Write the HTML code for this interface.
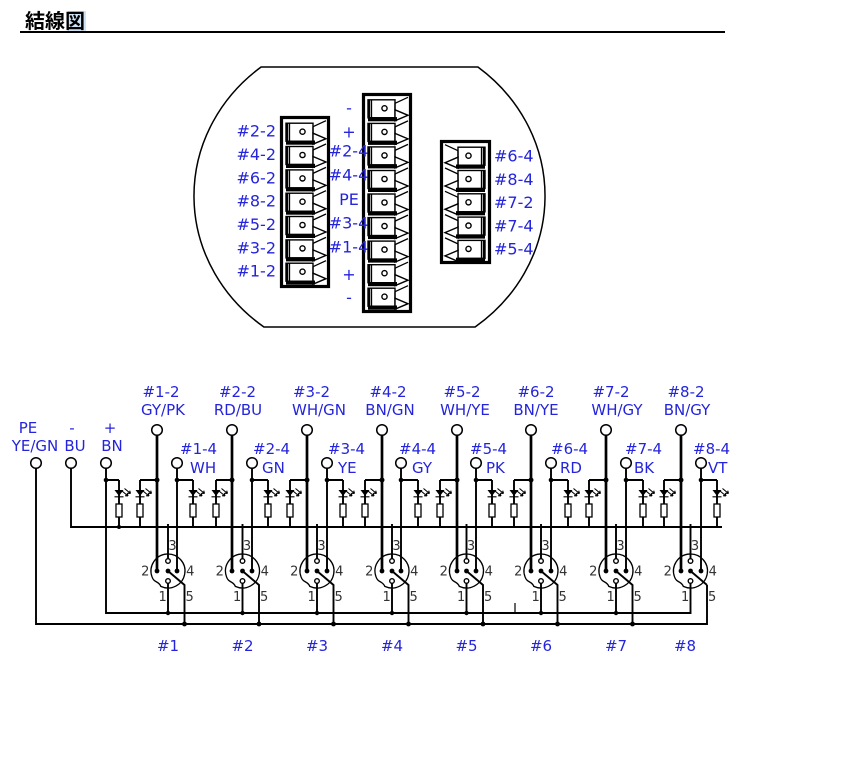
<!DOCTYPE html>
<html><head><meta charset="utf-8">
<style>
html,body{margin:0;padding:0;background:#fff;}
body{width:866px;height:758px;overflow:hidden;position:relative;}
svg{position:absolute;left:0;top:0;}
.w{stroke:#000;stroke-width:1.9;fill:none}
.t{stroke:#000;stroke-width:2.7;fill:none}
.c{fill:#fff;stroke:#000;stroke-width:1.5}
.d{fill:#000}
.cb{fill:#fff;stroke:#000;stroke-width:1.4}
.cl{fill:none;stroke:#000;stroke-width:1.3}
.blk{fill:#fff;stroke:#000;stroke-width:3.2}
.w1{fill:none;stroke:#000;stroke-width:1.1}
.r{fill:#fff;stroke:#000;stroke-width:1.3}
.co{fill:none;stroke:#000;stroke-width:1.3}
.ph{fill:#fff;stroke:#000;stroke-width:1.4}
.bl{fill:#2424dc;font-family:"DejaVu Sans","Liberation Sans",sans-serif;font-size:15px}
.bt{fill:#2424dc;font-family:"DejaVu Sans","Liberation Sans",sans-serif;font-size:16px}
.n{fill:#333;font-family:"DejaVu Sans","Liberation Sans",sans-serif;font-size:13px;text-anchor:middle}
.m{text-anchor:middle}
.e{text-anchor:end}
</style></head><body>
<svg width="866" height="758" viewBox="0 0 866 758" xmlns="http://www.w3.org/2000/svg">
<!-- title -->
<rect x="68" y="11" width="18" height="20" fill="#cfe3f7"/>
<text x="25" y="28" font-family="'Noto Sans CJK JP','WenQuanYi Zen Hei',sans-serif" font-weight="bold" font-size="20">結線図</text>
<rect x="20" y="31" width="705" height="2" fill="#000"/>

<!-- housing outline -->
<path d="M261.1,67H477.9A175.5,164 0 0 1 475.1,327H263.9A175.5,164 0 0 1 261.1,67Z" fill="none" stroke="#000" stroke-width="1.5"/>

<!-- left block -->
<rect class="blk" x="281.5" y="117.5" width="47" height="169"/>
<g transform="translate(280,131.7)"><rect class="cb" x="6" y="-8.5" width="27" height="18"/><path class="cl" d="M9.5,-8.5V9.5M33,-5L46,-11M33,-5V2"/><rect class="d" x="6" y="-8.5" width="2.2" height="18"/><polygon class="cb" points="33,1.5 46,7 33,12.5"/><rect class="d" x="6" y="8.8" width="29" height="4.2"/><circle class="cb" cx="22.5" cy="0" r="2.6"/></g>
<g transform="translate(280,155)"><rect class="cb" x="6" y="-8.5" width="27" height="18"/><path class="cl" d="M9.5,-8.5V9.5M33,-5L46,-11M33,-5V2"/><rect class="d" x="6" y="-8.5" width="2.2" height="18"/><polygon class="cb" points="33,1.5 46,7 33,12.5"/><rect class="d" x="6" y="8.8" width="29" height="4.2"/><circle class="cb" cx="22.5" cy="0" r="2.6"/></g>
<g transform="translate(280,178.4)"><rect class="cb" x="6" y="-8.5" width="27" height="18"/><path class="cl" d="M9.5,-8.5V9.5M33,-5L46,-11M33,-5V2"/><rect class="d" x="6" y="-8.5" width="2.2" height="18"/><polygon class="cb" points="33,1.5 46,7 33,12.5"/><rect class="d" x="6" y="8.8" width="29" height="4.2"/><circle class="cb" cx="22.5" cy="0" r="2.6"/></g>
<g transform="translate(280,201.7)"><rect class="cb" x="6" y="-8.5" width="27" height="18"/><path class="cl" d="M9.5,-8.5V9.5M33,-5L46,-11M33,-5V2"/><rect class="d" x="6" y="-8.5" width="2.2" height="18"/><polygon class="cb" points="33,1.5 46,7 33,12.5"/><rect class="d" x="6" y="8.8" width="29" height="4.2"/><circle class="cb" cx="22.5" cy="0" r="2.6"/></g>
<g transform="translate(280,225)"><rect class="cb" x="6" y="-8.5" width="27" height="18"/><path class="cl" d="M9.5,-8.5V9.5M33,-5L46,-11M33,-5V2"/><rect class="d" x="6" y="-8.5" width="2.2" height="18"/><polygon class="cb" points="33,1.5 46,7 33,12.5"/><rect class="d" x="6" y="8.8" width="29" height="4.2"/><circle class="cb" cx="22.5" cy="0" r="2.6"/></g>
<g transform="translate(280,248.4)"><rect class="cb" x="6" y="-8.5" width="27" height="18"/><path class="cl" d="M9.5,-8.5V9.5M33,-5L46,-11M33,-5V2"/><rect class="d" x="6" y="-8.5" width="2.2" height="18"/><polygon class="cb" points="33,1.5 46,7 33,12.5"/><rect class="d" x="6" y="8.8" width="29" height="4.2"/><circle class="cb" cx="22.5" cy="0" r="2.6"/></g>
<g transform="translate(280,271.7)"><rect class="cb" x="6" y="-8.5" width="27" height="18"/><path class="cl" d="M9.5,-8.5V9.5M33,-5L46,-11M33,-5V2"/><rect class="d" x="6" y="-8.5" width="2.2" height="18"/><polygon class="cb" points="33,1.5 46,7 33,12.5"/><rect class="d" x="6" y="8.8" width="29" height="4.2"/><circle class="cb" cx="22.5" cy="0" r="2.6"/></g>

<!-- middle block -->
<rect class="blk" x="363.5" y="94.5" width="47" height="217"/>
<g transform="translate(362,108.3)"><rect class="cb" x="6" y="-8.5" width="27" height="18"/><path class="cl" d="M9.5,-8.5V9.5M33,-5L46,-11M33,-5V2"/><rect class="d" x="6" y="-8.5" width="2.2" height="18"/><polygon class="cb" points="33,1.5 46,7 33,12.5"/><rect class="d" x="6" y="8.8" width="29" height="4.2"/><circle class="cb" cx="22.5" cy="0" r="2.6"/></g>
<g transform="translate(362,131.9)"><rect class="cb" x="6" y="-8.5" width="27" height="18"/><path class="cl" d="M9.5,-8.5V9.5M33,-5L46,-11M33,-5V2"/><rect class="d" x="6" y="-8.5" width="2.2" height="18"/><polygon class="cb" points="33,1.5 46,7 33,12.5"/><rect class="d" x="6" y="8.8" width="29" height="4.2"/><circle class="cb" cx="22.5" cy="0" r="2.6"/></g>
<g transform="translate(362,155.4)"><rect class="cb" x="6" y="-8.5" width="27" height="18"/><path class="cl" d="M9.5,-8.5V9.5M33,-5L46,-11M33,-5V2"/><rect class="d" x="6" y="-8.5" width="2.2" height="18"/><polygon class="cb" points="33,1.5 46,7 33,12.5"/><rect class="d" x="6" y="8.8" width="29" height="4.2"/><circle class="cb" cx="22.5" cy="0" r="2.6"/></g>
<g transform="translate(362,179)"><rect class="cb" x="6" y="-8.5" width="27" height="18"/><path class="cl" d="M9.5,-8.5V9.5M33,-5L46,-11M33,-5V2"/><rect class="d" x="6" y="-8.5" width="2.2" height="18"/><polygon class="cb" points="33,1.5 46,7 33,12.5"/><rect class="d" x="6" y="8.8" width="29" height="4.2"/><circle class="cb" cx="22.5" cy="0" r="2.6"/></g>
<g transform="translate(362,202.5)"><rect class="cb" x="6" y="-8.5" width="27" height="18"/><path class="cl" d="M9.5,-8.5V9.5M33,-5L46,-11M33,-5V2"/><rect class="d" x="6" y="-8.5" width="2.2" height="18"/><polygon class="cb" points="33,1.5 46,7 33,12.5"/><rect class="d" x="6" y="8.8" width="29" height="4.2"/><circle class="cb" cx="22.5" cy="0" r="2.6"/></g>
<g transform="translate(362,226.1)"><rect class="cb" x="6" y="-8.5" width="27" height="18"/><path class="cl" d="M9.5,-8.5V9.5M33,-5L46,-11M33,-5V2"/><rect class="d" x="6" y="-8.5" width="2.2" height="18"/><polygon class="cb" points="33,1.5 46,7 33,12.5"/><rect class="d" x="6" y="8.8" width="29" height="4.2"/><circle class="cb" cx="22.5" cy="0" r="2.6"/></g>
<g transform="translate(362,249.6)"><rect class="cb" x="6" y="-8.5" width="27" height="18"/><path class="cl" d="M9.5,-8.5V9.5M33,-5L46,-11M33,-5V2"/><rect class="d" x="6" y="-8.5" width="2.2" height="18"/><polygon class="cb" points="33,1.5 46,7 33,12.5"/><rect class="d" x="6" y="8.8" width="29" height="4.2"/><circle class="cb" cx="22.5" cy="0" r="2.6"/></g>
<g transform="translate(362,273.2)"><rect class="cb" x="6" y="-8.5" width="27" height="18"/><path class="cl" d="M9.5,-8.5V9.5M33,-5L46,-11M33,-5V2"/><rect class="d" x="6" y="-8.5" width="2.2" height="18"/><polygon class="cb" points="33,1.5 46,7 33,12.5"/><rect class="d" x="6" y="8.8" width="29" height="4.2"/><circle class="cb" cx="22.5" cy="0" r="2.6"/></g>
<g transform="translate(362,296.7)"><rect class="cb" x="6" y="-8.5" width="27" height="18"/><path class="cl" d="M9.5,-8.5V9.5M33,-5L46,-11M33,-5V2"/><rect class="d" x="6" y="-8.5" width="2.2" height="18"/><polygon class="cb" points="33,1.5 46,7 33,12.5"/><rect class="d" x="6" y="8.8" width="29" height="4.2"/><circle class="cb" cx="22.5" cy="0" r="2.6"/></g>

<!-- right block (mirrored) -->
<rect class="blk" x="441.5" y="141.5" width="48" height="121"/>
<g transform="translate(491,155.7) scale(-1,1)"><rect class="cb" x="6" y="-8.5" width="27" height="18"/><path class="cl" d="M9.5,-8.5V9.5M33,-5L46,-11M33,-5V2"/><rect class="d" x="6" y="-8.5" width="2.2" height="18"/><polygon class="cb" points="33,1.5 46,7 33,12.5"/><rect class="d" x="6" y="8.8" width="29" height="4.2"/><circle class="cb" cx="22.5" cy="0" r="2.6"/></g>
<g transform="translate(491,179) scale(-1,1)"><rect class="cb" x="6" y="-8.5" width="27" height="18"/><path class="cl" d="M9.5,-8.5V9.5M33,-5L46,-11M33,-5V2"/><rect class="d" x="6" y="-8.5" width="2.2" height="18"/><polygon class="cb" points="33,1.5 46,7 33,12.5"/><rect class="d" x="6" y="8.8" width="29" height="4.2"/><circle class="cb" cx="22.5" cy="0" r="2.6"/></g>
<g transform="translate(491,202.3) scale(-1,1)"><rect class="cb" x="6" y="-8.5" width="27" height="18"/><path class="cl" d="M9.5,-8.5V9.5M33,-5L46,-11M33,-5V2"/><rect class="d" x="6" y="-8.5" width="2.2" height="18"/><polygon class="cb" points="33,1.5 46,7 33,12.5"/><rect class="d" x="6" y="8.8" width="29" height="4.2"/><circle class="cb" cx="22.5" cy="0" r="2.6"/></g>
<g transform="translate(491,225.6) scale(-1,1)"><rect class="cb" x="6" y="-8.5" width="27" height="18"/><path class="cl" d="M9.5,-8.5V9.5M33,-5L46,-11M33,-5V2"/><rect class="d" x="6" y="-8.5" width="2.2" height="18"/><polygon class="cb" points="33,1.5 46,7 33,12.5"/><rect class="d" x="6" y="8.8" width="29" height="4.2"/><circle class="cb" cx="22.5" cy="0" r="2.6"/></g>
<g transform="translate(491,248.9) scale(-1,1)"><rect class="cb" x="6" y="-8.5" width="27" height="18"/><path class="cl" d="M9.5,-8.5V9.5M33,-5L46,-11M33,-5V2"/><rect class="d" x="6" y="-8.5" width="2.2" height="18"/><polygon class="cb" points="33,1.5 46,7 33,12.5"/><rect class="d" x="6" y="8.8" width="29" height="4.2"/><circle class="cb" cx="22.5" cy="0" r="2.6"/></g>

<!-- top labels -->
<g class="bt e">
<text x="276" y="136.7">#2-2</text>
<text x="276" y="160">#4-2</text>
<text x="276" y="183.4">#6-2</text>
<text x="276" y="206.7">#8-2</text>
<text x="276" y="230">#5-2</text>
<text x="276" y="253.4">#3-2</text>
<text x="276" y="276.7">#1-2</text>
</g>
<g class="bt m">
<text x="349" y="113.5">-</text>
<text x="349" y="137.5">+</text>
<text x="348.5" y="156.7">#2-4</text>
<text x="348.5" y="180.7">#4-4</text>
<text x="349" y="205">PE</text>
<text x="348.5" y="228.3">#3-4</text>
<text x="348.5" y="252.7">#1-4</text>
<text x="349" y="280">+</text>
<text x="349" y="303">-</text>
</g>
<g class="bt">
<text x="494" y="161.5">#6-4</text>
<text x="494" y="184.8">#8-4</text>
<text x="494" y="208.1">#7-2</text>
<text x="494" y="231.4">#7-4</text>
<text x="494" y="254.7">#5-4</text>
</g>

<!-- ===== schematic ===== -->
<path class="w" d="
M36,468.3V624H707V585
M71,468.3V527H722
M106,468.3V613H690.5V581
M106,480H119
M140,480H157 M177,480H193 M177,468.3V571
M216,480H232 M252,480H268 M252,468.3V571
M290,480H307 M327,480H343 M327,468.3V571
M365,480H382 M401,480H418 M401,468.3V571
M440,480H457 M476,480H492 M476,468.3V571
M514,480H531 M551,480H568 M551,468.3V571
M589,480H606 M626,480H643 M626,468.3V571
M664,480H681 M701,480H717 M701,468.3V571
M168,524V561 M242.5,524V561 M317,524V561 M392,524V561 M466.5,524V561 M541,524V561 M616,524V561 M690.5,524V561
M168,581V613 M242.5,581V613 M317,581V613 M392,581V613 M466.5,581V613 M541,581V613 M616,581V613
M168,571L184.5,585V624 M242.5,571L259,585V624 M317,571L333.5,585V624 M392,571L408.5,585V624 M466.5,571L483,585V624 M541,571L557.5,585V624 M616,571L632.5,585V624 M690.5,571L707,585
M119,480V527 M140,480V527 M193,480V527 M216,480V527 M268,480V527 M290,480V527 M343,480V527 M365,480V527 M418,480V527 M440,480V527 M492,480V527 M514,480V527 M568,480V527 M589,480V527 M643,480V527 M664,480V527 M717,480V527
"/>
<path d="M515,603V613" stroke="#000" stroke-width="1.2"/>
<path class="t" d="M157,435.3V571 M232,435.3V571 M307,435.3V571 M382,435.3V571 M457,435.3V571 M531,435.3V571 M606,435.3V571 M681,435.3V571"/>

<!-- LEDs -->
<g transform="translate(119,0)"><path class="d" d="M-4.5,490H4.5L0,496Z"/><path class="w1" d="M-4.5,496.8H4.5M3,491l6,5M5.5,488.5l6,5M9,496l-3,-0.3M9,496l-0.8,-2.8M11.5,493.5l-3,-0.3M11.5,493.5l-0.8,-2.8"/><rect class="r" x="-3" y="504" width="6" height="13"/></g>
<g transform="translate(140,0)"><path class="d" d="M-4.5,490H4.5L0,496Z"/><path class="w1" d="M-4.5,496.8H4.5M3,491l6,5M5.5,488.5l6,5M9,496l-3,-0.3M9,496l-0.8,-2.8M11.5,493.5l-3,-0.3M11.5,493.5l-0.8,-2.8"/><rect class="r" x="-3" y="504" width="6" height="13"/></g>
<g transform="translate(193,0)"><path class="d" d="M-4.5,490H4.5L0,496Z"/><path class="w1" d="M-4.5,496.8H4.5M3,491l6,5M5.5,488.5l6,5M9,496l-3,-0.3M9,496l-0.8,-2.8M11.5,493.5l-3,-0.3M11.5,493.5l-0.8,-2.8"/><rect class="r" x="-3" y="504" width="6" height="13"/></g>
<g transform="translate(216,0)"><path class="d" d="M-4.5,490H4.5L0,496Z"/><path class="w1" d="M-4.5,496.8H4.5M3,491l6,5M5.5,488.5l6,5M9,496l-3,-0.3M9,496l-0.8,-2.8M11.5,493.5l-3,-0.3M11.5,493.5l-0.8,-2.8"/><rect class="r" x="-3" y="504" width="6" height="13"/></g>
<g transform="translate(268,0)"><path class="d" d="M-4.5,490H4.5L0,496Z"/><path class="w1" d="M-4.5,496.8H4.5M3,491l6,5M5.5,488.5l6,5M9,496l-3,-0.3M9,496l-0.8,-2.8M11.5,493.5l-3,-0.3M11.5,493.5l-0.8,-2.8"/><rect class="r" x="-3" y="504" width="6" height="13"/></g>
<g transform="translate(290,0)"><path class="d" d="M-4.5,490H4.5L0,496Z"/><path class="w1" d="M-4.5,496.8H4.5M3,491l6,5M5.5,488.5l6,5M9,496l-3,-0.3M9,496l-0.8,-2.8M11.5,493.5l-3,-0.3M11.5,493.5l-0.8,-2.8"/><rect class="r" x="-3" y="504" width="6" height="13"/></g>
<g transform="translate(343,0)"><path class="d" d="M-4.5,490H4.5L0,496Z"/><path class="w1" d="M-4.5,496.8H4.5M3,491l6,5M5.5,488.5l6,5M9,496l-3,-0.3M9,496l-0.8,-2.8M11.5,493.5l-3,-0.3M11.5,493.5l-0.8,-2.8"/><rect class="r" x="-3" y="504" width="6" height="13"/></g>
<g transform="translate(365,0)"><path class="d" d="M-4.5,490H4.5L0,496Z"/><path class="w1" d="M-4.5,496.8H4.5M3,491l6,5M5.5,488.5l6,5M9,496l-3,-0.3M9,496l-0.8,-2.8M11.5,493.5l-3,-0.3M11.5,493.5l-0.8,-2.8"/><rect class="r" x="-3" y="504" width="6" height="13"/></g>
<g transform="translate(418,0)"><path class="d" d="M-4.5,490H4.5L0,496Z"/><path class="w1" d="M-4.5,496.8H4.5M3,491l6,5M5.5,488.5l6,5M9,496l-3,-0.3M9,496l-0.8,-2.8M11.5,493.5l-3,-0.3M11.5,493.5l-0.8,-2.8"/><rect class="r" x="-3" y="504" width="6" height="13"/></g>
<g transform="translate(440,0)"><path class="d" d="M-4.5,490H4.5L0,496Z"/><path class="w1" d="M-4.5,496.8H4.5M3,491l6,5M5.5,488.5l6,5M9,496l-3,-0.3M9,496l-0.8,-2.8M11.5,493.5l-3,-0.3M11.5,493.5l-0.8,-2.8"/><rect class="r" x="-3" y="504" width="6" height="13"/></g>
<g transform="translate(492,0)"><path class="d" d="M-4.5,490H4.5L0,496Z"/><path class="w1" d="M-4.5,496.8H4.5M3,491l6,5M5.5,488.5l6,5M9,496l-3,-0.3M9,496l-0.8,-2.8M11.5,493.5l-3,-0.3M11.5,493.5l-0.8,-2.8"/><rect class="r" x="-3" y="504" width="6" height="13"/></g>
<g transform="translate(514,0)"><path class="d" d="M-4.5,490H4.5L0,496Z"/><path class="w1" d="M-4.5,496.8H4.5M3,491l6,5M5.5,488.5l6,5M9,496l-3,-0.3M9,496l-0.8,-2.8M11.5,493.5l-3,-0.3M11.5,493.5l-0.8,-2.8"/><rect class="r" x="-3" y="504" width="6" height="13"/></g>
<g transform="translate(568,0)"><path class="d" d="M-4.5,490H4.5L0,496Z"/><path class="w1" d="M-4.5,496.8H4.5M3,491l6,5M5.5,488.5l6,5M9,496l-3,-0.3M9,496l-0.8,-2.8M11.5,493.5l-3,-0.3M11.5,493.5l-0.8,-2.8"/><rect class="r" x="-3" y="504" width="6" height="13"/></g>
<g transform="translate(589,0)"><path class="d" d="M-4.5,490H4.5L0,496Z"/><path class="w1" d="M-4.5,496.8H4.5M3,491l6,5M5.5,488.5l6,5M9,496l-3,-0.3M9,496l-0.8,-2.8M11.5,493.5l-3,-0.3M11.5,493.5l-0.8,-2.8"/><rect class="r" x="-3" y="504" width="6" height="13"/></g>
<g transform="translate(643,0)"><path class="d" d="M-4.5,490H4.5L0,496Z"/><path class="w1" d="M-4.5,496.8H4.5M3,491l6,5M5.5,488.5l6,5M9,496l-3,-0.3M9,496l-0.8,-2.8M11.5,493.5l-3,-0.3M11.5,493.5l-0.8,-2.8"/><rect class="r" x="-3" y="504" width="6" height="13"/></g>
<g transform="translate(664,0)"><path class="d" d="M-4.5,490H4.5L0,496Z"/><path class="w1" d="M-4.5,496.8H4.5M3,491l6,5M5.5,488.5l6,5M9,496l-3,-0.3M9,496l-0.8,-2.8M11.5,493.5l-3,-0.3M11.5,493.5l-0.8,-2.8"/><rect class="r" x="-3" y="504" width="6" height="13"/></g>
<g transform="translate(717,0)"><path class="d" d="M-4.5,490H4.5L0,496Z"/><path class="w1" d="M-4.5,496.8H4.5M3,491l6,5M5.5,488.5l6,5M9,496l-3,-0.3M9,496l-0.8,-2.8M11.5,493.5l-3,-0.3M11.5,493.5l-0.8,-2.8"/><rect class="r" x="-3" y="504" width="6" height="13"/></g>

<!-- junction dots -->
<g class="d">
<circle cx="106" cy="480" r="2.3"/>
<circle cx="157" cy="480" r="2.5"/><circle cx="177" cy="480" r="2.3"/>
<circle cx="232" cy="480" r="2.5"/><circle cx="252" cy="480" r="2.3"/>
<circle cx="307" cy="480" r="2.5"/><circle cx="327" cy="480" r="2.3"/>
<circle cx="382" cy="480" r="2.5"/><circle cx="401" cy="480" r="2.3"/>
<circle cx="457" cy="480" r="2.5"/><circle cx="476" cy="480" r="2.3"/>
<circle cx="531" cy="480" r="2.5"/><circle cx="551" cy="480" r="2.3"/>
<circle cx="606" cy="480" r="2.5"/><circle cx="626" cy="480" r="2.3"/>
<circle cx="681" cy="480" r="2.5"/><circle cx="701" cy="480" r="2.3"/>
<circle cx="119" cy="527" r="2"/>
<circle cx="168" cy="613" r="2.2"/><circle cx="242.5" cy="613" r="2.2"/><circle cx="317" cy="613" r="2.2"/><circle cx="392" cy="613" r="2.2"/><circle cx="466.5" cy="613" r="2.2"/><circle cx="541" cy="613" r="2.2"/><circle cx="616" cy="613" r="2.2"/>
<circle cx="184.5" cy="624" r="2.4"/><circle cx="259" cy="624" r="2.4"/><circle cx="333.5" cy="624" r="2.4"/><circle cx="408.5" cy="624" r="2.4"/><circle cx="483" cy="624" r="2.4"/><circle cx="557.5" cy="624" r="2.4"/><circle cx="632.5" cy="624" r="2.4"/>
<circle cx="157" cy="571" r="2.4"/><circle cx="177" cy="571" r="2.4"/>
<circle cx="232" cy="571" r="2.4"/><circle cx="252" cy="571" r="2.4"/>
<circle cx="307" cy="571" r="2.4"/><circle cx="327" cy="571" r="2.4"/>
<circle cx="382" cy="571" r="2.4"/><circle cx="401" cy="571" r="2.4"/>
<circle cx="457" cy="571" r="2.4"/><circle cx="476" cy="571" r="2.4"/>
<circle cx="531" cy="571" r="2.4"/><circle cx="551" cy="571" r="2.4"/>
<circle cx="606" cy="571" r="2.4"/><circle cx="626" cy="571" r="2.4"/>
<circle cx="681" cy="571" r="2.4"/><circle cx="701" cy="571" r="2.4"/>
</g>

<!-- terminal circles -->
<g class="c">
<circle cx="36" cy="463" r="5.3"/><circle cx="71" cy="463" r="5.3"/><circle cx="106" cy="463" r="5.3"/>
<circle cx="157" cy="430" r="5.3"/><circle cx="232" cy="430" r="5.3"/><circle cx="307" cy="430" r="5.3"/><circle cx="382" cy="430" r="5.3"/><circle cx="457" cy="430" r="5.3"/><circle cx="531" cy="430" r="5.3"/><circle cx="606" cy="430" r="5.3"/><circle cx="681" cy="430" r="5.3"/>
<circle cx="177" cy="463" r="5.3"/><circle cx="252" cy="463" r="5.3"/><circle cx="327" cy="463" r="5.3"/><circle cx="401" cy="463" r="5.3"/><circle cx="476" cy="463" r="5.3"/><circle cx="551" cy="463" r="5.3"/><circle cx="626" cy="463" r="5.3"/><circle cx="701" cy="463" r="5.3"/>
</g>

<!-- connectors -->
<g transform="translate(168,571)"><path class="co" d="M-16,5.8A17,17 0 1 1 -7.2,15.4C-9,10 -14,12 -16,5.8Z"/><circle class="ph" cx="0" cy="-10" r="2.3"/><circle class="d" cx="0" cy="0" r="2.4"/><circle class="ph" cx="0" cy="10" r="2.3"/><text class="n" x="4.5" y="-21">3</text><text class="n" x="-22.7" y="4.5">2</text><text class="n" x="22.3" y="4.5">4</text><text class="n" x="-5.4" y="30">1</text><text class="n" x="21.6" y="30">5</text></g>
<g transform="translate(242.5,571)"><path class="co" d="M-16,5.8A17,17 0 1 1 -7.2,15.4C-9,10 -14,12 -16,5.8Z"/><circle class="ph" cx="0" cy="-10" r="2.3"/><circle class="d" cx="0" cy="0" r="2.4"/><circle class="ph" cx="0" cy="10" r="2.3"/><text class="n" x="4.5" y="-21">3</text><text class="n" x="-22.7" y="4.5">2</text><text class="n" x="22.3" y="4.5">4</text><text class="n" x="-5.4" y="30">1</text><text class="n" x="21.6" y="30">5</text></g>
<g transform="translate(317,571)"><path class="co" d="M-16,5.8A17,17 0 1 1 -7.2,15.4C-9,10 -14,12 -16,5.8Z"/><circle class="ph" cx="0" cy="-10" r="2.3"/><circle class="d" cx="0" cy="0" r="2.4"/><circle class="ph" cx="0" cy="10" r="2.3"/><text class="n" x="4.5" y="-21">3</text><text class="n" x="-22.7" y="4.5">2</text><text class="n" x="22.3" y="4.5">4</text><text class="n" x="-5.4" y="30">1</text><text class="n" x="21.6" y="30">5</text></g>
<g transform="translate(392,571)"><path class="co" d="M-16,5.8A17,17 0 1 1 -7.2,15.4C-9,10 -14,12 -16,5.8Z"/><circle class="ph" cx="0" cy="-10" r="2.3"/><circle class="d" cx="0" cy="0" r="2.4"/><circle class="ph" cx="0" cy="10" r="2.3"/><text class="n" x="4.5" y="-21">3</text><text class="n" x="-22.7" y="4.5">2</text><text class="n" x="22.3" y="4.5">4</text><text class="n" x="-5.4" y="30">1</text><text class="n" x="21.6" y="30">5</text></g>
<g transform="translate(466.5,571)"><path class="co" d="M-16,5.8A17,17 0 1 1 -7.2,15.4C-9,10 -14,12 -16,5.8Z"/><circle class="ph" cx="0" cy="-10" r="2.3"/><circle class="d" cx="0" cy="0" r="2.4"/><circle class="ph" cx="0" cy="10" r="2.3"/><text class="n" x="4.5" y="-21">3</text><text class="n" x="-22.7" y="4.5">2</text><text class="n" x="22.3" y="4.5">4</text><text class="n" x="-5.4" y="30">1</text><text class="n" x="21.6" y="30">5</text></g>
<g transform="translate(541,571)"><path class="co" d="M-16,5.8A17,17 0 1 1 -7.2,15.4C-9,10 -14,12 -16,5.8Z"/><circle class="ph" cx="0" cy="-10" r="2.3"/><circle class="d" cx="0" cy="0" r="2.4"/><circle class="ph" cx="0" cy="10" r="2.3"/><text class="n" x="4.5" y="-21">3</text><text class="n" x="-22.7" y="4.5">2</text><text class="n" x="22.3" y="4.5">4</text><text class="n" x="-5.4" y="30">1</text><text class="n" x="21.6" y="30">5</text></g>
<g transform="translate(616,571)"><path class="co" d="M-16,5.8A17,17 0 1 1 -7.2,15.4C-9,10 -14,12 -16,5.8Z"/><circle class="ph" cx="0" cy="-10" r="2.3"/><circle class="d" cx="0" cy="0" r="2.4"/><circle class="ph" cx="0" cy="10" r="2.3"/><text class="n" x="4.5" y="-21">3</text><text class="n" x="-22.7" y="4.5">2</text><text class="n" x="22.3" y="4.5">4</text><text class="n" x="-5.4" y="30">1</text><text class="n" x="21.6" y="30">5</text></g>
<g transform="translate(690.5,571)"><path class="co" d="M-16,5.8A17,17 0 1 1 -7.2,15.4C-9,10 -14,12 -16,5.8Z"/><circle class="ph" cx="0" cy="-10" r="2.3"/><circle class="d" cx="0" cy="0" r="2.4"/><circle class="ph" cx="0" cy="10" r="2.3"/><text class="n" x="4.5" y="-21">3</text><text class="n" x="-22.7" y="4.5">2</text><text class="n" x="22.3" y="4.5">4</text><text class="n" x="-5.4" y="30">1</text><text class="n" x="21.6" y="30">5</text></g>

<!-- schematic labels -->
<g class="bl m">
<text x="28" y="433">PE</text><text x="35" y="451">YE/GN</text>
<text x="72" y="433">-</text><text x="75" y="451">BU</text>
<text x="110" y="433">+</text><text x="112" y="451">BN</text>
<text x="161" y="397">#1-2</text><text x="163" y="415">GY/PK</text>
<text x="237.5" y="397">#2-2</text><text x="238" y="415">RD/BU</text>
<text x="311.5" y="397">#3-2</text><text x="319" y="415">WH/GN</text>
<text x="388" y="397">#4-2</text><text x="390" y="415">BN/GN</text>
<text x="462" y="397">#5-2</text><text x="465" y="415">WH/YE</text>
<text x="536" y="397">#6-2</text><text x="536" y="415">BN/YE</text>
<text x="611" y="397">#7-2</text><text x="617" y="415">WH/GY</text>
<text x="686" y="397">#8-2</text><text x="687" y="415">BN/GY</text>
<text x="168" y="651">#1</text>
<text x="242.5" y="651">#2</text>
<text x="317" y="651">#3</text>
<text x="392" y="651">#4</text>
<text x="466.5" y="651">#5</text>
<text x="541" y="651">#6</text>
<text x="616" y="651">#7</text>
<text x="685" y="651">#8</text>
</g>
<g class="bl">
<text x="180" y="454">#1-4</text><text x="190" y="473">WH</text>
<text x="253" y="454">#2-4</text><text x="262" y="473">GN</text>
<text x="328" y="454">#3-4</text><text x="338" y="473">YE</text>
<text x="399" y="454">#4-4</text><text x="412" y="473">GY</text>
<text x="470" y="454">#5-4</text><text x="486" y="473">PK</text>
<text x="551" y="454">#6-4</text><text x="560" y="473">RD</text>
<text x="625" y="454">#7-4</text><text x="634" y="473">BK</text>
<text x="693" y="454">#8-4</text><text x="708" y="473">VT</text>
</g>
</svg>
</body></html>
